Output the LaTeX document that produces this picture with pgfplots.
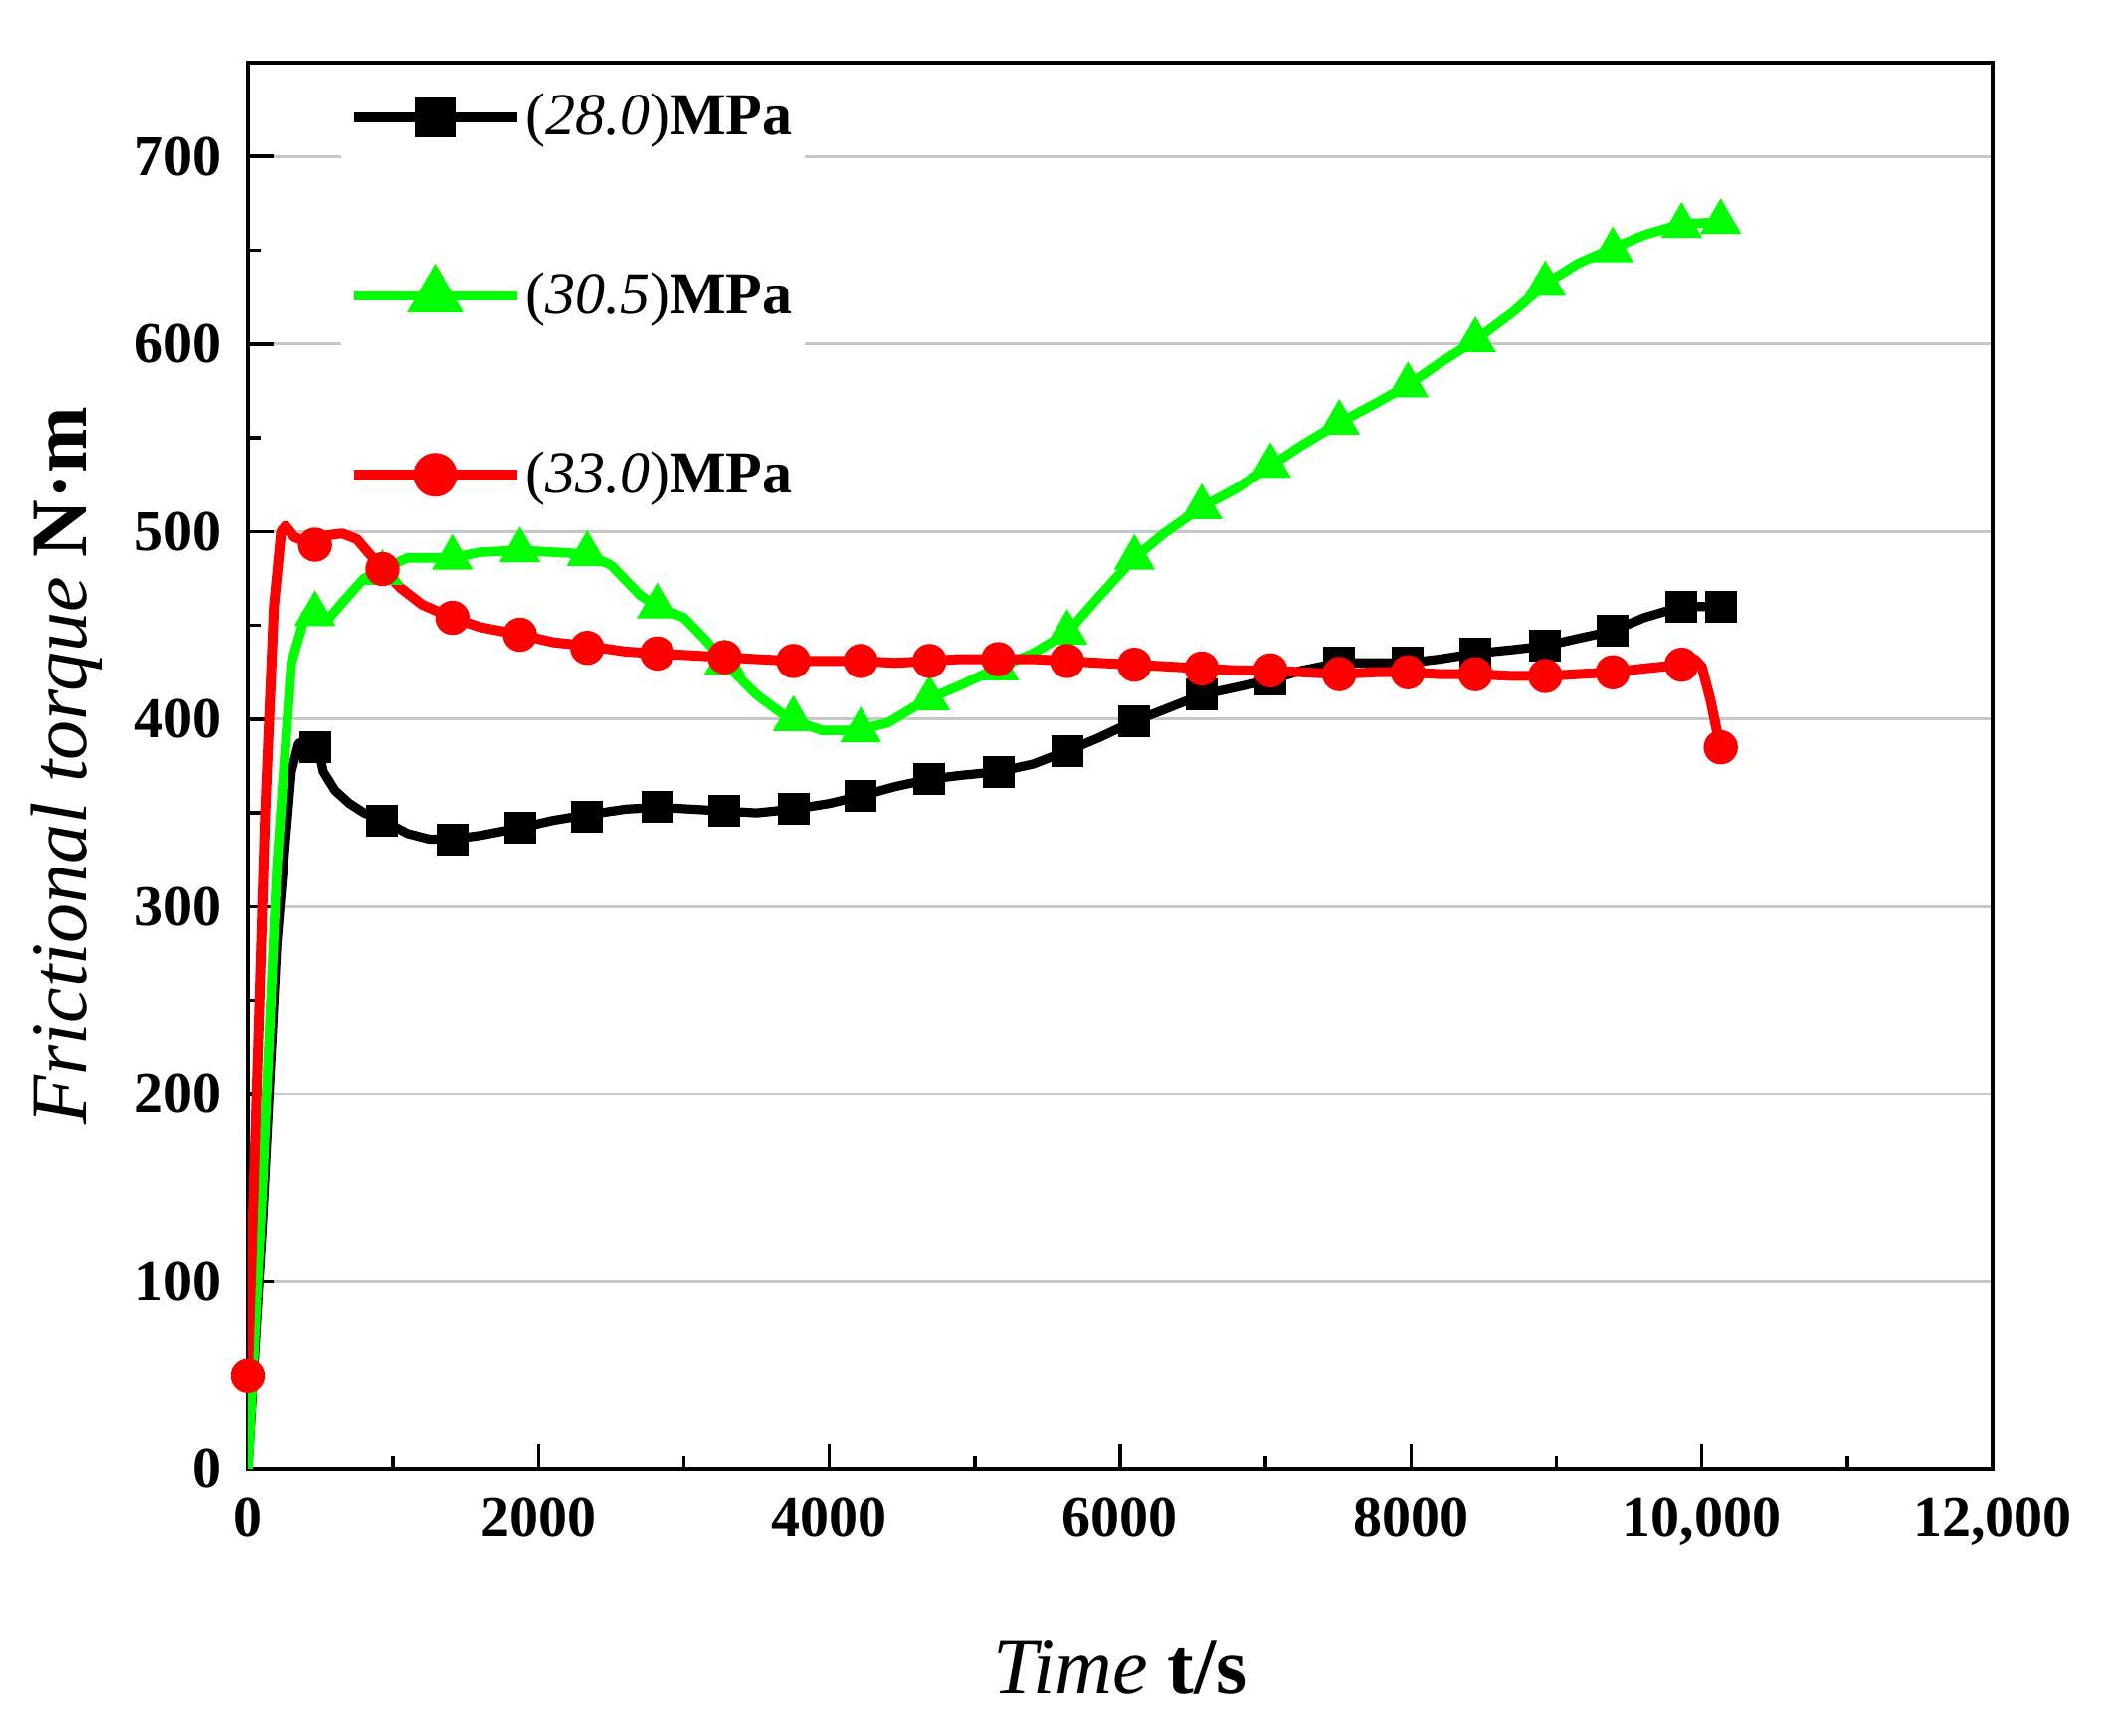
\documentclass[border=0pt]{standalone}
\usepackage{fontspec}
\setmainfont{Liberation Serif}
\usepackage{pgfplots}
\pgfplotsset{compat=1.18}
\begin{document}
\begin{tikzpicture}
\begin{axis}[
  scale only axis, width=438.5pt, height=353.5pt,
  xmin=0, xmax=12000, ymin=0, ymax=750,
  scaled x ticks=false, scaled y ticks=false,
  xtick={0,2000,4000,6000,8000,10000,12000},
  xticklabels={0,2000,4000,6000,8000,{10,000},{12,000}},
  ytick={0,100,200,300,400,500,600,700},
  minor x tick num=1, minor y tick num=1,
  tick align=inside, tick pos=left,
  major tick length=6.5pt, minor tick length=3.3pt,
  every tick/.style={black, line width=0.9pt},
  axis line style={line width=1.2pt},
  ymajorgrids, major grid style={black!22, line width=0.7pt},
  /pgf/number format/assume math mode=true,
  tick label style={font=\bfseries\fontsize{14.5}{16}\selectfont},
  yticklabel style={xshift=-3pt},
  xticklabel style={yshift=-3.7pt},
  xlabel={\textit{Time} \textbf{t/s}},
  ylabel={\textit{Frictional torque} \textbf{N·m}},
  label style={font=\fontsize{20}{24}\selectfont},
  xlabel style={at={(axis description cs:0.5,-0.141)}, anchor=center},
  ylabel style={at={(axis description cs:-0.1035,0.5)}, anchor=center, rotate=0},
  legend style={at={(axis description cs:0.053,0.987)}, anchor=north west, draw=none, fill=white,
    inner sep=2pt, row sep=31pt, font=\fontsize{15}{18}\selectfont, nodes={inner sep=1pt},
    /tikz/every odd column/.append style={column sep=0pt},
    /tikz/every even column/.append style={column sep=0pt}},
  legend cell align=left,
  legend image code/.code={\draw[mark repeat=2, mark phase=2] plot coordinates {(0pt,0pt) (20.5pt,0pt) (41pt,0pt)};},
]
\addlegendimage{black, line width=2.4pt, mark=square*, mark size=3.9pt, mark options={solid}}
\addlegendentry[xshift=-2pt]{(\textit{28.0})\textbf{MPa}}
\addlegendimage{green, line width=2.4pt, mark=triangle*, mark size=5.8pt, mark options={solid}}
\addlegendentry[xshift=-2pt]{(\textit{30.5})\textbf{MPa}}
\addlegendimage{red, line width=2.4pt, mark=*, mark size=4.3pt, mark options={solid}}
\addlegendentry[xshift=-2pt]{(\textit{33.0})\textbf{MPa}}

% 28.0 MPa line
\addplot[black, line width=2.3pt, forget plot, line join=round] coordinates {
(0,0) (100,130) (200,280) (300,372) (350,387) (400,389) (480,386) (520,372) (600,362) (700,355) (800,350) (927,346) (1100,339) (1250,336) (1408,336) (1600,338) (1872,342) (2100,346) (2335,349) (2600,352) (2817,353) (3050,352) (3280,351) (3500,350) (3753,352) (4000,355) (4216,359) (4450,364) (4689,368) (4900,370) (5162,372) (5400,376) (5635,383) (5850,390) (6098,399) (6300,405) (6561,413) (6800,417) (7034,421) (7250,426) (7507,430) (7750,430) (7979,430) (8200,432) (8443,435) (8700,437) (8924,439) (9150,443) (9388,447) (9600,454) (9861,460) (10130,460)
};
\addplot[black, only marks, mark=square*, mark size=3.8pt, forget plot] coordinates {
(463,385) (927,346) (1408,336) (1872,342) (2335,348) (2817,353) (3280,351) (3753,352) (4216,359) (4689,368) (5162,372) (5635,383) (6098,399) (6561,413) (7034,421) (7507,430) (7979,430) (8443,435) (8924,439) (9388,447) (9861,460) (10130,460)
};

% 30.5 MPa line
\addplot[green, line width=2.4pt, forget plot, line join=round] coordinates {
(0,0) (100,150) (200,320) (300,430) (400,456) (463,458) (540,452) (650,462) (800,475) (927,480) (1100,486) (1250,486) (1408,486) (1600,489) (1872,490) (2100,489) (2335,488) (2500,482) (2700,466) (2817,460) (3000,454) (3150,442) (3280,430) (3500,413) (3727,400) (3950,394) (4183,394) (4400,398) (4658,410) (4900,418) (5120,426) (5400,435) (5635,446) (5850,465) (6098,486) (6300,499) (6561,513) (6800,523) (7034,535) (7250,546) (7507,558) (7750,568) (7979,578) (8200,590) (8443,602) (8700,617) (8924,632) (9150,643) (9388,651) (9600,658) (9861,664) (10130,665)
};
\addplot[green, only marks, mark=triangle*, mark size=5.6pt, forget plot] coordinates {
(463,456) (927,478) (1408,486) (1872,490) (2335,488) (2817,460) (3280,430) (3753,400) (4216,394) (4689,411) (5162,427) (5635,446) (6098,486) (6561,513) (7034,535) (7507,558) (7979,578) (8443,602) (8924,632) (9388,650) (9861,663) (10130,665)
};

% 33.0 MPa line
\addplot[red, line width=2.5pt, forget plot, line join=round] coordinates {
(0,50) (60,200) (120,350) (180,460) (230,500) (260,503) (320,497) (400,495) (463,494) (550,498) (650,499) (750,496) (850,487) (927,480) (1050,470) (1200,461) (1408,454) (1600,449) (1872,445) (2100,441) (2335,439) (2600,436) (2817,435) (3050,434) (3280,433) (3500,432) (3753,431) (4000,431) (4216,431) (4450,430) (4689,431) (4900,432) (5162,432) (5400,432) (5635,431) (5850,430) (6098,429) (6350,428) (6561,427) (6800,426) (7034,426) (7250,425) (7507,424) (7750,425) (7979,425) (8200,424) (8443,424) (8700,423) (8924,423) (9150,424) (9388,425) (9600,427) (9861,429) (9950,432) (10000,428) (10060,410) (10100,395) (10130,385)
};
\addplot[red, only marks, mark=*, mark size=4.1pt, forget plot] coordinates {
(0,50) (463,493) (927,480) (1408,454) (1872,445) (2335,438) (2817,435) (3280,433) (3753,431) (4216,431) (4689,431) (5162,432) (5635,431) (6098,429) (6561,427) (7034,426) (7507,424) (7979,425) (8443,424) (8924,423) (9388,425) (9861,429) (10130,385)
};
\end{axis}
\pgfresetboundingbox
\path[use as bounding box] ([shift={(-62.25pt,-67pt)}]current axis.south west) rectangle ([shift={(468.75pt,369.25pt)}]current axis.south west);
\end{tikzpicture}
\end{document}
